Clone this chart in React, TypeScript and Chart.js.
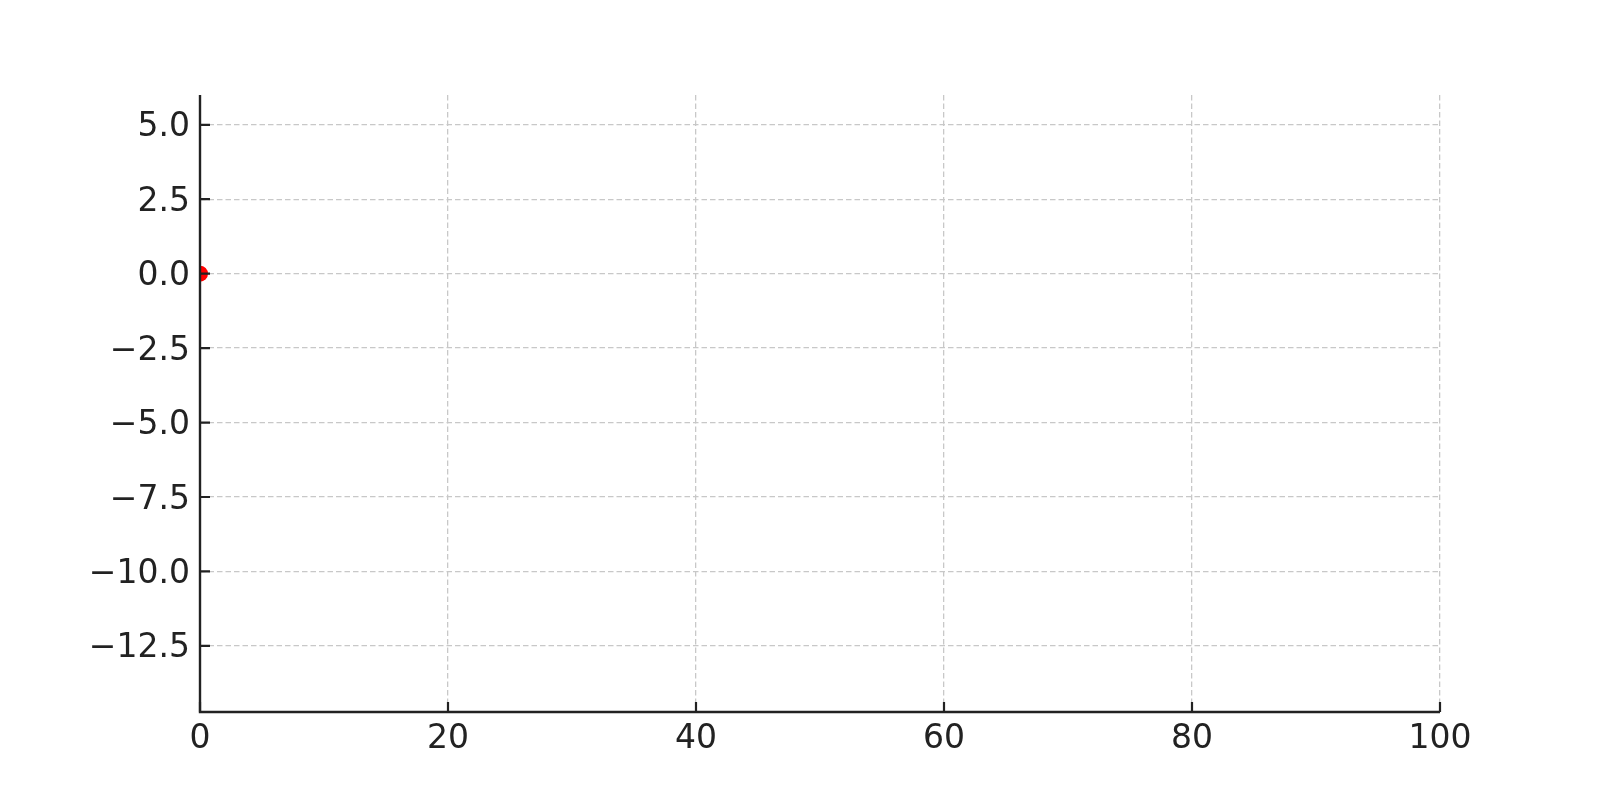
import React, { useRef, useEffect } from "react";
import { Chart, registerables } from "chart.js";

Chart.register(...registerables);

// data
const xValues = [0];
const yValues = [0];
const xTicks = [0, 20, 40, 60, 80, 100];
const yTicks = [-12.5, -10, -7.5, -5, -2.5, 0, 2.5, 5];
const xRange = [0, 100];
const yRange = [-14.72, 6];

const INK = "#222222";
const FONT = "'DejaVu Sans', sans-serif";

const fmtY = (v: number) =>
  v < 0 ? "\u2212" + Math.abs(v).toFixed(1) : v.toFixed(1);

// axis spines + inward ticks, drawn over the points like matplotlib
const spinesPlugin = {
  id: "spines",
  afterDatasetsDraw(chart: any) {
    const { ctx, chartArea, scales } = chart;
    const { left, right, top, bottom } = chartArea;
    ctx.save();
    ctx.strokeStyle = INK;
    ctx.lineWidth = 2.4;
    ctx.lineCap = "butt";
    ctx.beginPath();
    ctx.moveTo(left, top);
    ctx.lineTo(left, bottom + 1.2);
    ctx.moveTo(left - 1.2, bottom);
    ctx.lineTo(right, bottom);
    ctx.stroke();

    ctx.lineWidth = 2.2;
    ctx.beginPath();
    xTicks.forEach((v) => {
      const px = scales.x.getPixelForValue(v);
      ctx.moveTo(px, bottom);
      ctx.lineTo(px, bottom - 10);
    });
    yTicks.forEach((v) => {
      const py = scales.y.getPixelForValue(v);
      ctx.moveTo(left, py);
      ctx.lineTo(left + 10, py);
    });
    ctx.stroke();
    ctx.restore();
  },
};

const App: React.FC = () => {
  const canvasRef = useRef<HTMLCanvasElement>(null);
  const chartRef = useRef<Chart | null>(null);

  useEffect(() => {
    document.body.style.margin = "0";
    document.body.style.overflow = "hidden";
    if (chartRef.current) chartRef.current.destroy();

    const ctx = canvasRef.current!.getContext("2d")!;
    chartRef.current = new Chart(ctx, {
      type: "scatter",
      data: {
        datasets: [
          {
            data: xValues.map((x, i) => ({ x, y: yValues[i] })),
            backgroundColor: "#ff0000",
            borderColor: "#ff0000",
            borderWidth: 0,
            pointRadius: 8,
            clip: 0,
          },
        ],
      },
      options: {
        animation: false,
        responsive: false,
        layout: { padding: { top: 95, right: 160, bottom: 0, left: 0 } },
        plugins: {
          legend: { display: false },
          tooltip: { enabled: false },
        },
        scales: {
          x: {
            type: "linear",
            min: xRange[0],
            max: xRange[1],
            afterFit(scale: any) {
              scale.height = 88;
            },
            afterBuildTicks(scale: any) {
              scale.ticks = xTicks.map((value) => ({ value }));
            },
            border: { display: false, dash: [5.5, 3] },
            grid: {
              color: "#c8c8c8",
              lineWidth: 1.3,
              drawTicks: false,
            },
            ticks: {
              color: INK,
              font: { family: FONT, size: 33 },
              padding: 8,
              maxRotation: 0,
              callback: (v: any) => String(v),
            },
          },
          y: {
            type: "linear",
            min: yRange[0],
            max: yRange[1],
            afterFit(scale: any) {
              scale.width = 200;
            },
            afterBuildTicks(scale: any) {
              scale.ticks = yTicks.map((value) => ({ value }));
            },
            border: { display: false, dash: [5.5, 3] },
            grid: {
              color: "#c8c8c8",
              lineWidth: 1.3,
              drawTicks: false,
            },
            ticks: {
              color: INK,
              font: { family: FONT, size: 33 },
              padding: 10,
              labelOffset: 3,
              callback: (v: any) => fmtY(Number(v)),
            },
          },
        },
      } as any,
      plugins: [spinesPlugin],
    });

    return () => {
      if (chartRef.current) {
        chartRef.current.destroy();
        chartRef.current = null;
      }
    };
  }, []);

  return (
    <div style={{ width: 1600, height: 800, background: "#ffffff" }}>
      <canvas ref={canvasRef} width={1600} height={800} />
    </div>
  );
};

export default App;
